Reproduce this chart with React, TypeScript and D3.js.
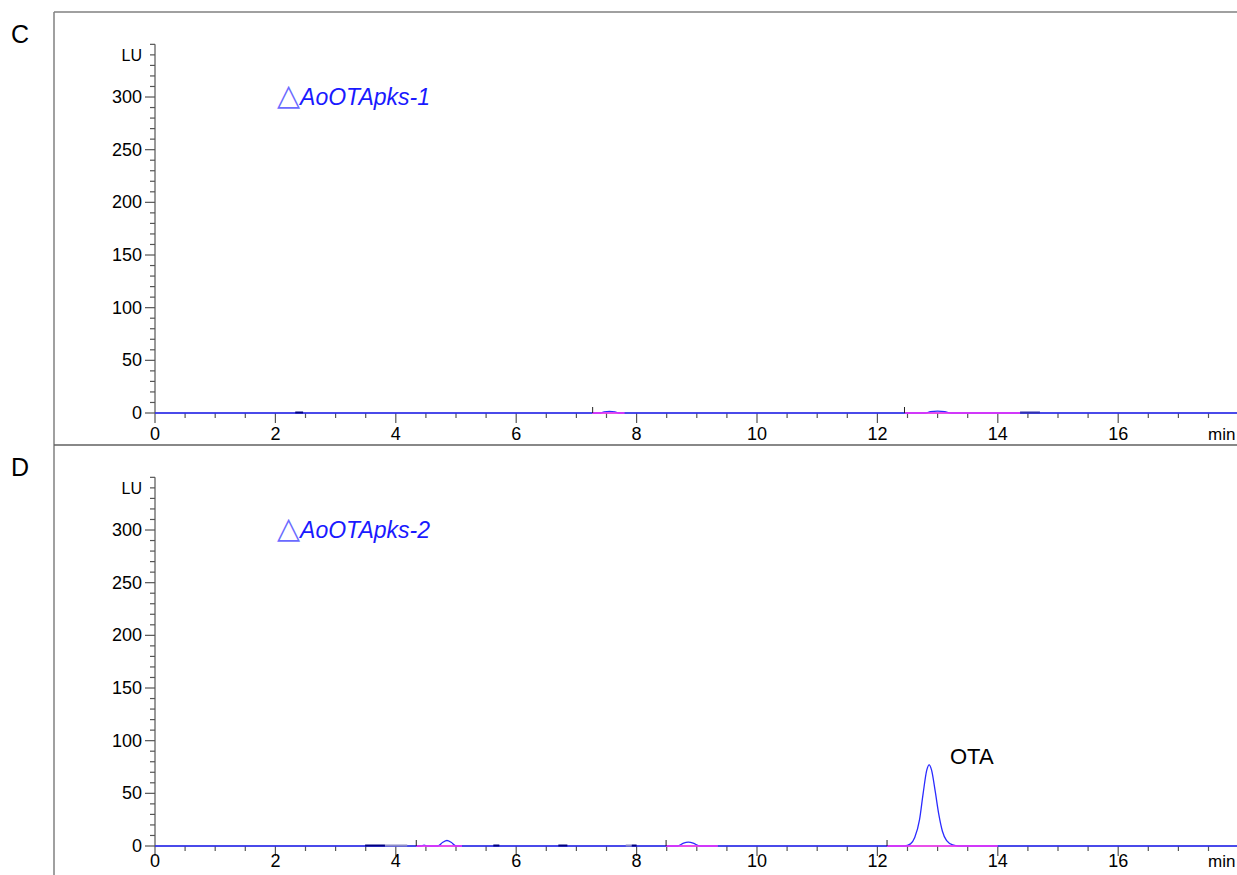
import React, { useEffect, useRef } from "react";
import * as d3 from "d3";

// x axis (min) and y axis (LU) tick values
const xMajorTicks = [0, 2, 4, 6, 8, 10, 12, 14, 16];
const yMajorTicks = [0, 50, 100, 150, 200, 250, 300];

// panel C: blue trace points [time, LU]
const traceC = [
  [0, 0], [7.4, 0], [7.46, 1.0], [7.55, 1.6], [7.64, 1.0], [7.7, 0],
  [12.8, 0], [12.88, 1.2], [13.0, 1.7], [13.12, 1.2], [13.22, 0], [18, 0],
];
// panel D: blue trace points [time, LU]
const traceD = [
  [0, 0], [4.42, 0], [4.47, 0.8], [4.52, 0], [4.7, 0], [4.78, 3.5], [4.85, 5.2],
  [4.92, 3.5], [5.0, 0], [8.68, 0], [8.78, 2.8], [8.86, 3.6], [8.94, 2.8],
  [9.05, 0], [12.45, 0], [12.55, 2], [12.62, 8], [12.7, 25], [12.76, 50],
  [12.82, 72], [12.86, 77], [12.9, 72], [12.96, 52], [13.02, 30], [13.08, 14],
  [13.15, 5], [13.25, 1], [13.35, 0], [18, 0],
];

// integration baselines (magenta)
const baselinesC = [[7.26, 7.8], [12.46, 14.37]];
const baselinesD = [[4.34, 5.1], [8.49, 9.35], [12.16, 14.0]];

// small dark baseline pieces [start, end, colour]
const darkC = [[2.33, 2.46, "#000080"], [14.37, 14.7, "#3030b0"]];
const darkD = [
  [3.49, 3.82, "#000080"], [3.82, 4.19, "#8a8ac8"], [5.62, 5.72, "#000080"],
  [6.7, 6.85, "#000080"], [7.82, 7.92, "#8a8ac8"], [7.92, 8.0, "#000080"],
];

// event markers (min)
const markersC = [7.27, 12.45];
const markersD = [4.34, 8.49, 12.16];

const W = 1237;
const H = 875;
const axisX = 155;
const xMax = 18;
const yMax = 350;

const App = () => {
  const ref = useRef(null);

  useEffect(() => {
    const svg = d3.select(ref.current);
    svg.selectAll("*").remove();

    const x = d3.scaleLinear().domain([0, xMax]).range([axisX, axisX + 60.2 * xMax]);

    const panels = [
      { letter: "C", name: "AoOTApks-1", top: 12, y0: 413, labY: 27, trace: traceC, base: baselinesC, dark: darkC, marks: markersC, ota: false },
      { letter: "D", name: "AoOTApks-2", top: 445, y0: 846, labY: 21, trace: traceD, base: baselinesD, dark: darkD, marks: markersD, ota: true },
    ];

    // frame lines
    svg.append("line").attr("x1", 54).attr("x2", 54).attr("y1", 12).attr("y2", H)
      .attr("stroke", "#808080").attr("stroke-width", 1.5);
    svg.append("line").attr("x1", 54).attr("x2", W).attr("y1", 12).attr("y2", 12)
      .attr("stroke", "#808080").attr("stroke-width", 1.5);
    svg.append("line").attr("x1", 54).attr("x2", W).attr("y1", 445).attr("y2", 445)
      .attr("stroke", "#606060").attr("stroke-width", 1.5);

    panels.forEach((p) => {
      const y = d3.scaleLinear().domain([0, yMax]).range([p.y0, p.y0 - 1.0533 * yMax]);
      const g = svg.append("g");

      // panel letter
      g.append("text").attr("x", 11).attr("y", p.top + 31)
        .attr("font-size", 25).attr("fill", "#000").text(p.letter);

      // y axis
      const yMinor = d3.range(0, yMax + 1, 10);
      g.append("line").attr("x1", axisX).attr("x2", axisX)
        .attr("y1", y(0)).attr("y2", y(yMax)).attr("stroke", "#555").attr("stroke-width", 1.2);
      g.selectAll(".ymin").data(yMinor).join("line")
        .attr("x1", (d) => axisX - (yMajorTicks.includes(d) ? 10 : 5)).attr("x2", axisX)
        .attr("y1", (d) => y(d)).attr("y2", (d) => y(d))
        .attr("stroke", "#555").attr("stroke-width", 1.2);
      g.selectAll(".ylab").data(yMajorTicks).join("text")
        .attr("x", axisX - 13).attr("y", (d) => y(d) + 6)
        .attr("text-anchor", "end").attr("font-size", 18).attr("fill", "#000")
        .text((d) => d);
      g.append("text").attr("x", axisX - 13).attr("y", y(340) + 6)
        .attr("text-anchor", "end").attr("font-size", 16).attr("fill", "#000").text("LU");

      // x axis
      g.append("line").attr("x1", axisX).attr("x2", W)
        .attr("y1", p.y0).attr("y2", p.y0).attr("stroke", "#555").attr("stroke-width", 1.2);
      const xMinor = d3.range(0, xMax, 0.5);
      g.selectAll(".xmin").data(xMinor).join("line")
        .attr("x1", (d) => x(d)).attr("x2", (d) => x(d))
        .attr("y1", p.y0).attr("y2", (d) => p.y0 + (xMajorTicks.includes(d) ? 10 : 5))
        .attr("stroke", "#555").attr("stroke-width", 1.2);
      g.selectAll(".xlab").data(xMajorTicks).join("text")
        .attr("x", (d) => x(d)).attr("y", p.y0 + p.labY)
        .attr("text-anchor", "middle").attr("font-size", 18).attr("fill", "#000")
        .text((d) => d);
      g.append("text").attr("x", 1208).attr("y", p.y0 + p.labY)
        .attr("font-size", 17).attr("fill", "#000").text("min");

      // blue trace
      const line = d3.line().x((d) => x(d[0])).y((d) => y(d[1])).curve(d3.curveMonotoneX);
      g.append("path").datum(p.trace).attr("d", line)
        .attr("fill", "none").attr("stroke", "#2b2bff").attr("stroke-width", 1.3);

      // dark baseline pieces
      g.selectAll(".dark").data(p.dark).join("line")
        .attr("x1", (d) => x(d[0])).attr("x2", (d) => x(d[1]))
        .attr("y1", p.y0 - 0.5).attr("y2", p.y0 - 0.5)
        .attr("stroke", (d) => d[2]).attr("stroke-width", 2);

      // magenta baselines
      g.selectAll(".base").data(p.base).join("line")
        .attr("x1", (d) => x(d[0])).attr("x2", (d) => x(d[1]))
        .attr("y1", p.y0).attr("y2", p.y0)
        .attr("stroke", "#ff33ff").attr("stroke-width", 1.3);

      // event markers
      g.selectAll(".mark").data(p.marks).join("line")
        .attr("x1", (d) => x(d)).attr("x2", (d) => x(d))
        .attr("y1", p.y0).attr("y2", p.y0 - 6)
        .attr("stroke", "#222").attr("stroke-width", 1);

      // sample name
      const t = g.append("text").attr("x", 277).attr("y", p.top + 93)
        .attr("font-size", 23).attr("font-family", "Liberation Sans, Arial, sans-serif");
      t.append("tspan").attr("fill", "#6b6bff").attr("font-family", "DejaVu Sans")
        .attr("font-size", 30).text("\u25B3");
      t.append("tspan").attr("fill", "#1a1aff").attr("font-style", "italic").text(p.name);

      if (p.ota) {
        g.append("text").attr("x", 950).attr("y", p.y0 - 82)
          .attr("font-size", 22).attr("fill", "#000").text("OTA");
      }
    });
  }, []);

  return (
    <svg
      ref={ref}
      width={W}
      height={H}
      style={{ position: "absolute", left: 0, top: 0, background: "#fff", fontFamily: "Liberation Sans, Arial, sans-serif" }}
    ></svg>
  );
};

export default App;
